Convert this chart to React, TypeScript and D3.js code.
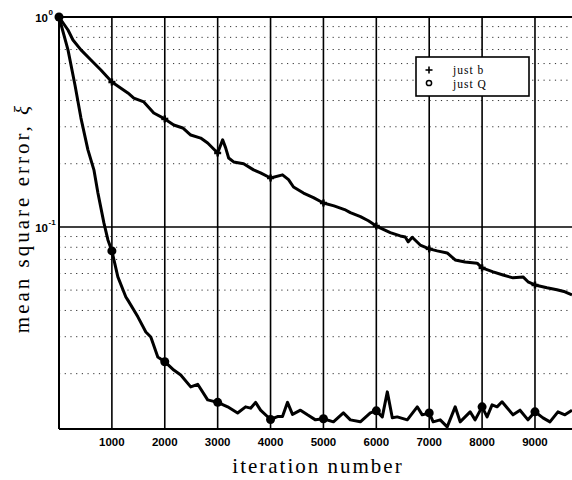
import React from "react";
import * as d3 from "d3";

// upper curve ("just b")
const iterB = [0, 170, 264, 415, 604, 792, 1000, 1302, 1415, 1604, 1792, 2000, 2170, 2340, 2491, 2679, 2811, 3000, 3094, 3151, 3208, 3302, 3491, 3679, 3811, 4000, 4226, 4340, 4434, 4623, 4811, 5000, 5200, 5400, 5509, 5700, 5850, 6000, 6264, 6453, 6547, 6604, 6679, 6830, 7000, 7151, 7340, 7491, 7679, 7906, 8000, 8208, 8396, 8585, 8774, 8868, 9000, 9226, 9415, 9566, 9700];
const errB = [1.0, 0.867, 0.777, 0.697, 0.624, 0.559, 0.49, 0.435, 0.411, 0.394, 0.349, 0.327, 0.306, 0.296, 0.274, 0.265, 0.251, 0.225, 0.26, 0.238, 0.213, 0.204, 0.2, 0.187, 0.181, 0.171, 0.177, 0.168, 0.155, 0.145, 0.138, 0.13, 0.126, 0.121, 0.117, 0.112, 0.107, 0.101, 0.094, 0.0906, 0.0895, 0.0849, 0.0893, 0.082, 0.0786, 0.0769, 0.0752, 0.0696, 0.068, 0.0672, 0.0638, 0.0611, 0.059, 0.0572, 0.0578, 0.0548, 0.0529, 0.0513, 0.0502, 0.0491, 0.0475];

// lower curve ("just Q")
const iterQ = [0, 170, 302, 415, 547, 660, 736, 849, 925, 1000, 1113, 1264, 1302, 1491, 1642, 1736, 1868, 2000, 2170, 2302, 2491, 2623, 2811, 3000, 3189, 3377, 3528, 3623, 3717, 3811, 4000, 4132, 4226, 4321, 4415, 4566, 4698, 4849, 5000, 5189, 5377, 5509, 5698, 5887, 6000, 6113, 6208, 6302, 6396, 6585, 6774, 6868, 7000, 7075, 7208, 7340, 7491, 7585, 7774, 7868, 8000, 8094, 8189, 8283, 8377, 8472, 8585, 8717, 8868, 9000, 9151, 9283, 9434, 9566, 9700];
const errQ = [1.0, 0.697, 0.474, 0.33, 0.233, 0.187, 0.145, 0.1045, 0.0867, 0.0769, 0.0578, 0.0464, 0.0448, 0.0373, 0.0316, 0.0299, 0.024, 0.0228, 0.0208, 0.0197, 0.0173, 0.0178, 0.015, 0.0146, 0.0139, 0.013, 0.0139, 0.0137, 0.0146, 0.0134, 0.0121, 0.0125, 0.0125, 0.0146, 0.0128, 0.0134, 0.01273, 0.01205, 0.0122, 0.01179, 0.013, 0.01205, 0.01179, 0.013, 0.0133, 0.01245, 0.01638, 0.01232, 0.01245, 0.01205, 0.0139, 0.01273, 0.013, 0.01179, 0.01205, 0.01116, 0.0139, 0.01179, 0.01316, 0.01205, 0.0139, 0.01245, 0.0142, 0.0139, 0.01469, 0.01375, 0.01273, 0.0134, 0.01205, 0.01316, 0.01232, 0.01179, 0.01316, 0.01273, 0.0134];

const xTicks = [1000, 2000, 3000, 4000, 5000, 6000, 7000, 8000, 9000];
const markIters = [0, 1000, 2000, 3000, 4000, 5000, 6000, 7000, 8000, 9000];
const legendLabels = ["just b", "just Q"];

const W = 572;
const H = 480;
const SANS = "Liberation Sans, Arial, sans-serif";
const SERIF = "Liberation Serif, Times New Roman, serif";

export default function App() {
  const x = d3.scaleLinear().domain([0, 9700]).range([59, 572]);
  const y = d3.scaleLog().domain([0.0109, 1]).range([429, 17]);

  const line = d3
    .line<[number, number]>()
    .x((d) => x(d[0]))
    .y((d) => y(d[1]));

  const ptsB = iterB.map((t, i) => [t, errB[i]] as [number, number]);
  const ptsQ = iterQ.map((t, i) => [t, errQ[i]] as [number, number]);

  // minor log grid values inside the domain
  const minor: number[] = [];
  [0.01, 0.1].forEach((dec) => {
    for (let k = 2; k <= 9; k++) {
      const v = dec * k;
      if (v > 0.0109 && v < 1) minor.push(v);
    }
  });

  const valAt = (iters: number[], errs: number[], t: number) => {
    const i = iters.indexOf(t);
    return i >= 0 ? errs[i] : errs[errs.length - 1];
  };

  const [x0, x1] = x.range();
  const [yb, yt] = y.range();

  return (
    <svg width={W} height={H} style={{ position: "absolute", left: 0, top: 0, background: "#fff" }}>
      {/* minor dotted grid */}
      {minor.map((v) => (
        <line key={"m" + v} x1={x0} x2={x1} y1={y(v)} y2={y(v)} stroke="#333" strokeWidth={1} strokeDasharray="1.2,4.5" />
      ))}
      {/* decade lines */}
      <line x1={x0} x2={x1} y1={y(0.1)} y2={y(0.1)} stroke="#000" strokeWidth={1.5} />
      <line x1={x0} x2={x1} y1={y(1)} y2={y(1)} stroke="#000" strokeWidth={2} />
      {/* vertical grid */}
      {xTicks.map((t) => (
        <line key={"v" + t} x1={x(t)} x2={x(t)} y1={yt} y2={yb} stroke="#000" strokeWidth={1.6} />
      ))}
      {/* axes */}
      <line x1={x0} x2={x0} y1={yt} y2={yb} stroke="#000" strokeWidth={2} />
      <line x1={x0} x2={x1} y1={yb} y2={yb} stroke="#000" strokeWidth={2} />

      {/* x tick labels */}
      {xTicks.map((t) => (
        <text key={"xl" + t} x={x(t)} y={446} textAnchor="middle" fill="#000" fontFamily={SANS} fontWeight="bold" fontSize={11.5}>
          {t}
        </text>
      ))}
      {/* y tick labels */}
      <text x={48} y={22} textAnchor="end" fill="#000" fontFamily={SANS} fontWeight="bold" fontSize={11.5}>10</text>
      <text x={48.5} y={15} fill="#000" fontFamily={SANS} fontWeight="bold" fontSize={8}>0</text>
      <text x={48} y={232} textAnchor="end" fill="#000" fontFamily={SANS} fontWeight="bold" fontSize={11.5}>10</text>
      <text x={48.5} y={225} fill="#000" fontFamily={SANS} fontWeight="bold" fontSize={8}>-1</text>

      {/* axis titles */}
      <text x={318} y={473} textAnchor="middle" fill="#000" fontFamily={SERIF} fontSize={21} letterSpacing={2}>
        iteration number
      </text>
      <text transform="translate(29,218) rotate(-90)" textAnchor="middle" fill="#000" fontFamily={SERIF} fontSize={21} letterSpacing={3}>
        mean square error, <tspan fontStyle="italic">ξ</tspan>
      </text>

      {/* curves */}
      <path d={line(ptsB) ?? ""} fill="none" stroke="#000" strokeWidth={3} strokeLinejoin="round" />
      <path d={line(ptsQ) ?? ""} fill="none" stroke="#000" strokeWidth={3} strokeLinejoin="round" />

      {/* markers */}
      {markIters.map((t) => {
        const cx = x(t);
        const cy = y(valAt(iterB, errB, t));
        return (
          <g key={"pb" + t}>
            <line x1={cx - 3.5} x2={cx + 3.5} y1={cy} y2={cy} stroke="#000" strokeWidth={2.5} />
            <line x1={cx} x2={cx} y1={cy - 3.5} y2={cy + 3.5} stroke="#000" strokeWidth={2.5} />
          </g>
        );
      })}
      {markIters.map((t) => (
        <circle key={"pq" + t} cx={x(t)} cy={y(valAt(iterQ, errQ, t))} r={4.5} fill="#000" />
      ))}

      {/* legend */}
      <rect x={416} y={57} width={113} height={39} fill="#fff" stroke="#000" strokeWidth={1.6} />
      <line x1={425.5} x2={432.5} y1={70} y2={70} stroke="#000" strokeWidth={1.6} />
      <line x1={429} x2={429} y1={66.5} y2={73.5} stroke="#000" strokeWidth={1.6} />
      <circle cx={429} cy={83} r={2.6} fill="none" stroke="#000" strokeWidth={1.5} />
      {legendLabels.map((lab, i) => (
        <text key={lab} x={453} y={74 + i * 13.5} fill="#000" fontFamily={SERIF} fontSize={11.5} letterSpacing={1}>
          {lab}
        </text>
      ))}
    </svg>
  );
}
